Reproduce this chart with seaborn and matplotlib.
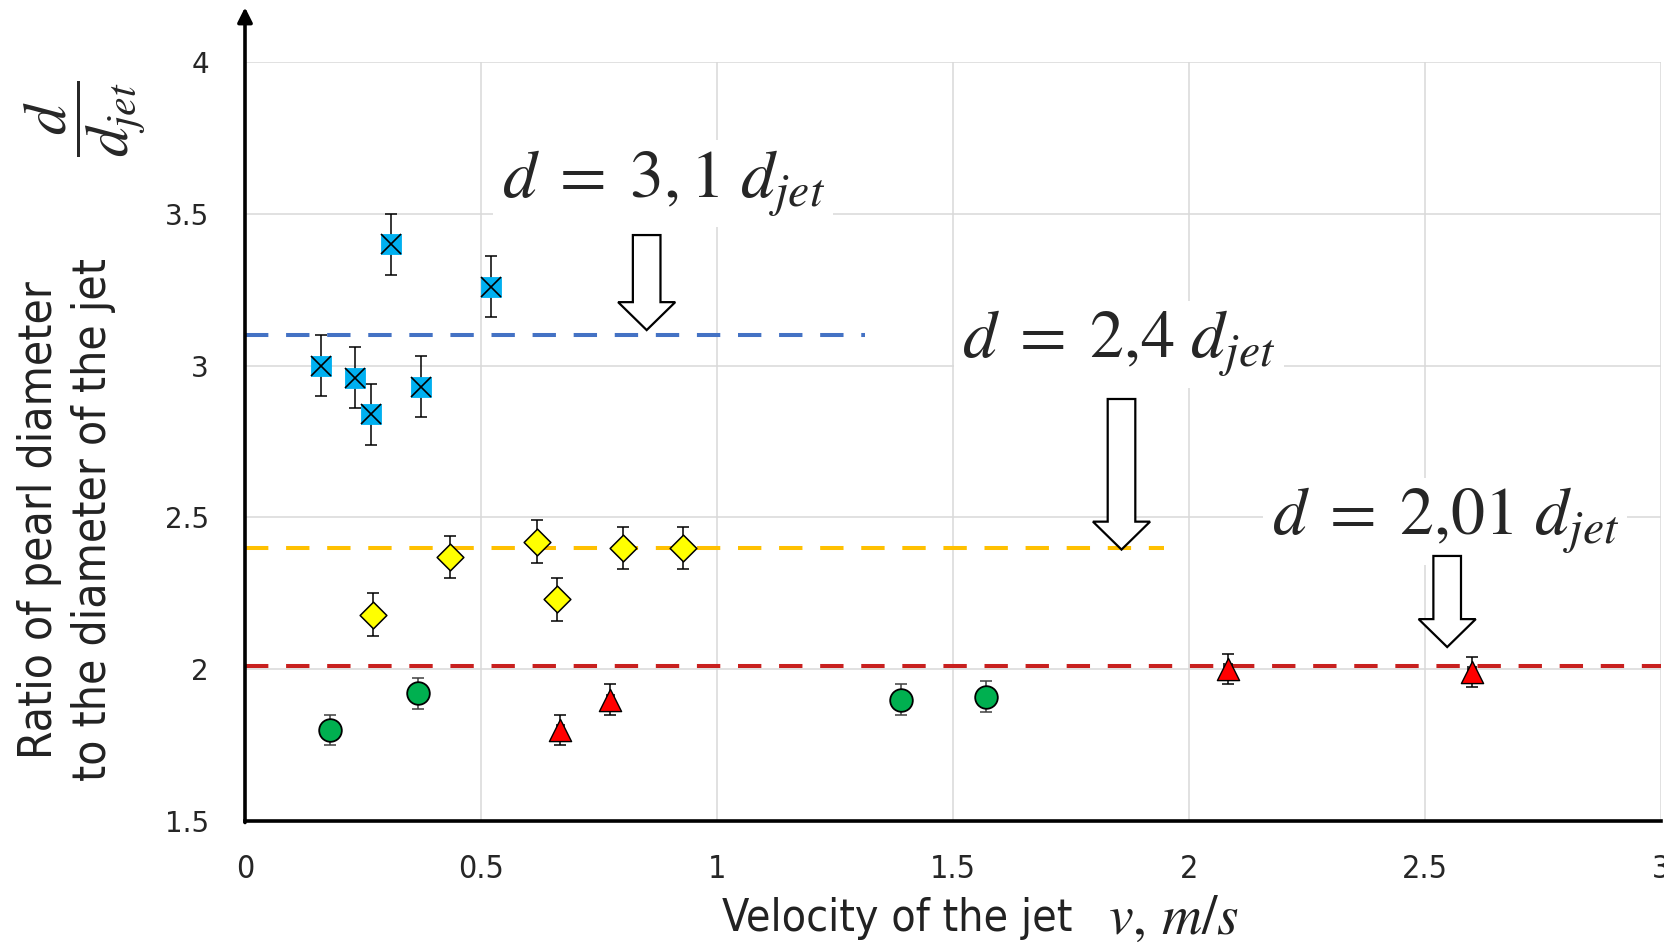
import matplotlib
matplotlib.use("Agg")
import matplotlib.pyplot as plt
import seaborn as sns
import pandas as pd
from matplotlib.patches import FancyArrow

# Jet velocity (m/s) and pearl-to-jet diameter ratio for each regime
blue_v = [0.162, 0.234, 0.268, 0.310, 0.373, 0.522]
blue_r = [3.00, 2.96, 2.84, 3.40, 2.93, 3.26]
blue_err = 0.10

yellow_v = [0.272, 0.434, 0.619, 0.661, 0.801, 0.927]
yellow_r = [2.18, 2.37, 2.42, 2.23, 2.40, 2.40]
yellow_err = 0.07

green_v = [0.180, 0.367, 1.390, 1.570]
green_r = [1.80, 1.92, 1.90, 1.91]
green_err = 0.05

red_v = [0.668, 0.774, 2.083, 2.600]
red_r = [1.80, 1.90, 2.00, 1.99]
red_err = 0.05

# Mean ratio of each regime, its printed form and how far its guide line runs
mean_ratio = [3.1, 2.4, 2.01]
mean_text = [r"3,1", r"2{,}4", r"2{,}01"]
mean_end = [1.314, 1.948, 3.0]

x_ticks = [0, 0.5, 1, 1.5, 2, 2.5, 3]
x_tick_labels = ["0", "0.5", "1", "1.5", "2", "2.5", "3"]
y_ticks = [1.5, 2, 2.5, 3, 3.5, 4]
y_tick_labels = ["1.5", "2", "2.5", "3", "3.5", "4"]

sns.set_theme(style="white")
plt.rcParams["font.family"] = ["DejaVu Sans"]
plt.rcParams["mathtext.fontset"] = "stix"
NARROW = dict(family="DejaVu Sans", stretch="condensed")

W, H = 1664, 944
fig = plt.figure(figsize=(W / 100, H / 100), dpi=100)
ax = fig.add_axes([245 / W, 1 - 821 / H, 1416 / W, 759 / H])
ax.set_xlim(0, 3)
ax.set_ylim(1.5, 4)

# light grid
grid_kw = dict(color="#D9D9D9", lw=1.1, zorder=0)
for xv in x_ticks[1:]:
    ax.axvline(xv, **grid_kw)
for yv in y_ticks[1:]:
    ax.axhline(yv, **grid_kw)

# regime mean lines
line_colors = ["#4472C4", "#FFC000", "#C8201F"]
for yv, xe, c in zip(mean_ratio, mean_end, line_colors):
    ax.plot([0, xe], [yv, yv], color=c, lw=2.9, ls=(0, (5.8, 4.4)),
            solid_capstyle="butt", zorder=1.5)

# error bars
eb = dict(fmt="none", elinewidth=1.1, capsize=4.3, capthick=1.1, zorder=3)
ax.errorbar(blue_v, blue_r, yerr=blue_err, ecolor="black", **eb)
ax.errorbar(yellow_v, yellow_r, yerr=yellow_err, xerr=0.008, ecolor="black", **eb)
ax.errorbar(green_v, green_r, yerr=green_err, ecolor="#404040", **eb)
ax.errorbar(red_v, red_r, yerr=red_err, xerr=0.008, ecolor="black", **eb)

# markers
blue_df = pd.DataFrame({"v": blue_v, "r": blue_r})
yellow_df = pd.DataFrame({"v": yellow_v, "r": yellow_r})
green_df = pd.DataFrame({"v": green_v, "r": green_r})
red_df = pd.DataFrame({"v": red_v, "r": red_r})

sns.scatterplot(data=blue_df, x="v", y="r", marker="s", s=225, color="#00B0F0",
                edgecolor="#00B0F0", linewidth=0.6, ax=ax, zorder=4)
ax.plot(blue_v, blue_r, ls="none", marker="x", ms=14.8, mew=1.2, color="black", zorder=5)
sns.scatterplot(data=yellow_df, x="v", y="r", marker="D", s=185, color="#FFFF00",
                edgecolor="black", linewidth=1.1, ax=ax, zorder=4)
sns.scatterplot(data=green_df, x="v", y="r", marker="o", s=265, color="#00B050",
                edgecolor="black", linewidth=1.3, ax=ax, zorder=4)
sns.scatterplot(data=red_df, x="v", y="r", marker="^", s=255, color="#FF0000",
                edgecolor="black", linewidth=1.0, ax=ax, zorder=4)

# regime labels and block arrows pointing to their mean lines
label_pos = [(0.886, 3.60), (1.852, 3.07), (2.543, 2.487)]
arrow_geom = [(0.851, 3.430, 3.117), (1.857, 2.890, 2.394), (2.547, 2.373, 2.073)]
for (tx, ty), txt in zip(label_pos, mean_text):
    ax.text(tx, ty, r"$d\;=\;" + txt + r"\ d_{jet}$", fontsize=49,
            ha="center", va="center", zorder=2,
            bbox=dict(facecolor="white", edgecolor="none", pad=6))
for x0, ytop, ytip in arrow_geom:
    ax.add_patch(FancyArrow(x0, ytop, 0, ytip - ytop, width=0.0585,
                            head_width=0.121, head_length=0.092,
                            length_includes_head=True, facecolor="white",
                            edgecolor="black", lw=1.6, zorder=2.5))

# axes styling
ax.set_xticks(x_ticks, x_tick_labels, fontsize=23, **NARROW)
ax.set_yticks(y_ticks, y_tick_labels, fontsize=20, family="DejaVu Sans")
ax.tick_params(axis="x", length=0, pad=24)
ax.tick_params(axis="y", length=0, pad=26)
for side in ["top", "right", "left"]:
    ax.spines[side].set_visible(False)
ax.spines["bottom"].set_color("black")
ax.spines["bottom"].set_linewidth(2.6)
ax.grid(False)

# vertical axis drawn as an arrow
ax.annotate("", xy=(0, 1.072), xytext=(0, -0.002), xycoords="axes fraction",
            arrowprops=dict(arrowstyle="-|>", lw=2.6, color="black",
                            mutation_scale=22, shrinkA=0, shrinkB=0),
            annotation_clip=False)

ax.set_xlabel("Velocity of the jet", fontsize=32, color="#222222",
              va="center", **NARROW)
ax.xaxis.set_label_coords(0.4605, -0.129)
ax.text(0.656, -0.129, r"$v,\,m/s$", transform=ax.transAxes, fontsize=40,
        ha="center", va="center", color="#222222")
ax.set_ylabel("Ratio of pearl diameter\nto the diameter of the jet", fontsize=33,
              color="#222222", va="center", ha="center", linespacing=1.25, **NARROW)
ax.yaxis.set_label_coords(-0.126, 0.397)

fig.text(85 / W, 1 - 119 / H, r"$\dfrac{d}{d_{jet}}$", fontsize=43, rotation=90,
         ha="center", va="center")

fig.savefig("out.png", dpi=100)
